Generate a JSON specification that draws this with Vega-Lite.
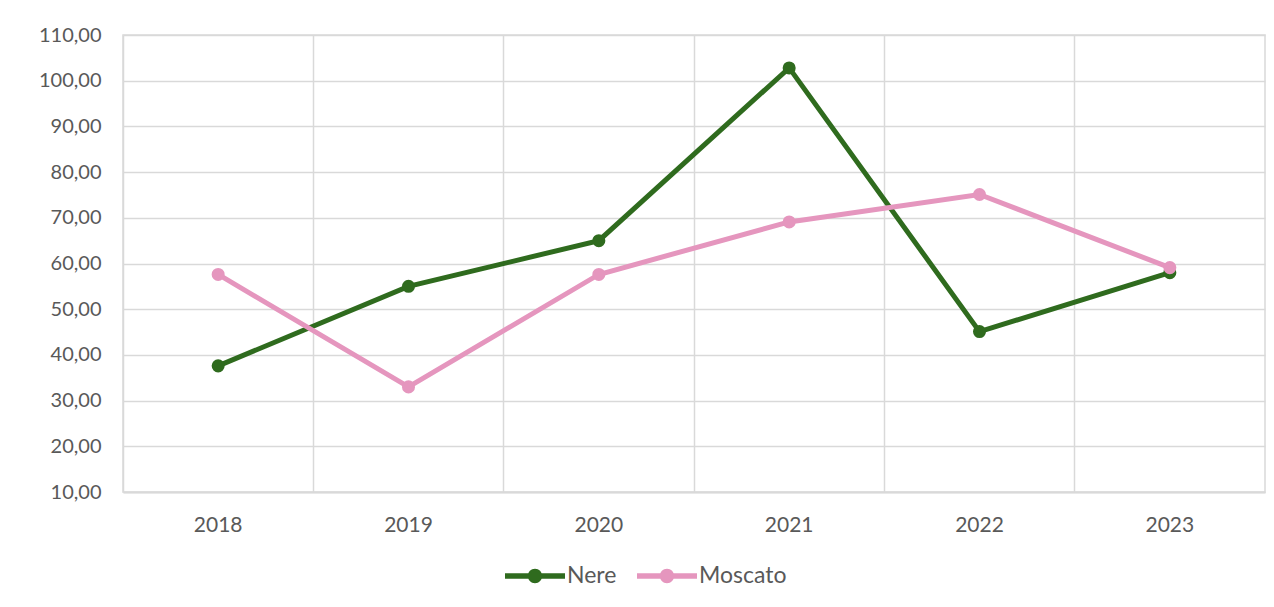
{
  "$schema": "https://vega.github.io/schema/vega-lite/v6.json",
  "width": 1142,
  "height": 457,
  "autosize": {"type": "none"},
  "padding": {"left": 123, "top": 35, "right": 9, "bottom": 115},
  "background": "white",
  "data": {
    "values": [
      {"anno": "2018", "serie": "Nere", "valore": 37.6},
      {"anno": "2019", "serie": "Nere", "valore": 55.0},
      {"anno": "2020", "serie": "Nere", "valore": 65.0},
      {"anno": "2021", "serie": "Nere", "valore": 102.8},
      {"anno": "2022", "serie": "Nere", "valore": 45.1},
      {"anno": "2023", "serie": "Nere", "valore": 58.0},
      {"anno": "2018", "serie": "Moscato", "valore": 57.6},
      {"anno": "2019", "serie": "Moscato", "valore": 33.0},
      {"anno": "2020", "serie": "Moscato", "valore": 57.6},
      {"anno": "2021", "serie": "Moscato", "valore": 69.1},
      {"anno": "2022", "serie": "Moscato", "valore": 75.1},
      {"anno": "2023", "serie": "Moscato", "valore": 59.1}
    ]
  },
  "mark": {"type": "line", "strokeWidth": 5, "point": {"filled": true, "size": 170, "opacity": 1}},
  "encoding": {
    "x": {
      "field": "anno", "type": "ordinal",
      "scale": {"type": "band", "paddingInner": 0, "paddingOuter": 0},
      "axis": {
        "title": null, "labelAngle": 0, "domain": true, "domainColor": "#d9d9d9", "domainWidth": 2,
        "ticks": false, "grid": true, "gridColor": "#d9d9d9", "gridWidth": 1.5,
        "bandPosition": 0, "labelPadding": 22, "labelFontSize": 21, "labelColor": "#595959",
        "labelFont": "Lato"
      }
    },
    "y": {
      "field": "valore", "type": "quantitative",
      "scale": {"domain": [10, 110], "nice": false, "zero": false},
      "axis": {
        "title": null, "values": [10,20,30,40,50,60,70,80,90,100,110], "format": ",.2f",
        "domain": false, "ticks": false, "grid": true, "gridColor": "#d9d9d9", "gridWidth": 1.5,
        "labelPadding": 22, "labelFontSize": 20, "labelColor": "#595959", "labelFont": "Lato"
      }
    },
    "color": {
      "field": "serie", "type": "nominal",
      "sort": ["Nere", "Moscato"],
      "scale": {"domain": ["Nere", "Moscato"], "range": ["#2f6b1e", "#e596be"]},
      "legend": {
        "title": null, "orient": "none", "direction": "horizontal",
        "legendX": 382, "legendY": 511,
        "symbolType": "M-1,-0.09H1V0.09H-1Z M0.24,0 A0.24,0.24 0 1,1 -0.24,0 A0.24,0.24 0 1,1 0.24,0Z",
        "symbolSize": 3600, "symbolStrokeWidth": 0,
        "labelFontSize": 23, "labelColor": "#595959", "labelFont": "Lato",
        "labelOffset": 2, "columnPadding": 20,
        "encode": {"symbols": {"update": {"fill": {"scale": "color", "field": "value"}, "fillOpacity": {"value": 1}}}}
      }
    },
    "order": {"field": "anno"}
  },
  "config": {
    "view": {"stroke": "#d9d9d9", "strokeWidth": 1.5},
    "locale": {"number": {"decimal": ",", "thousands": ".", "grouping": [3], "currency": ["€", ""]}}
  }
}
